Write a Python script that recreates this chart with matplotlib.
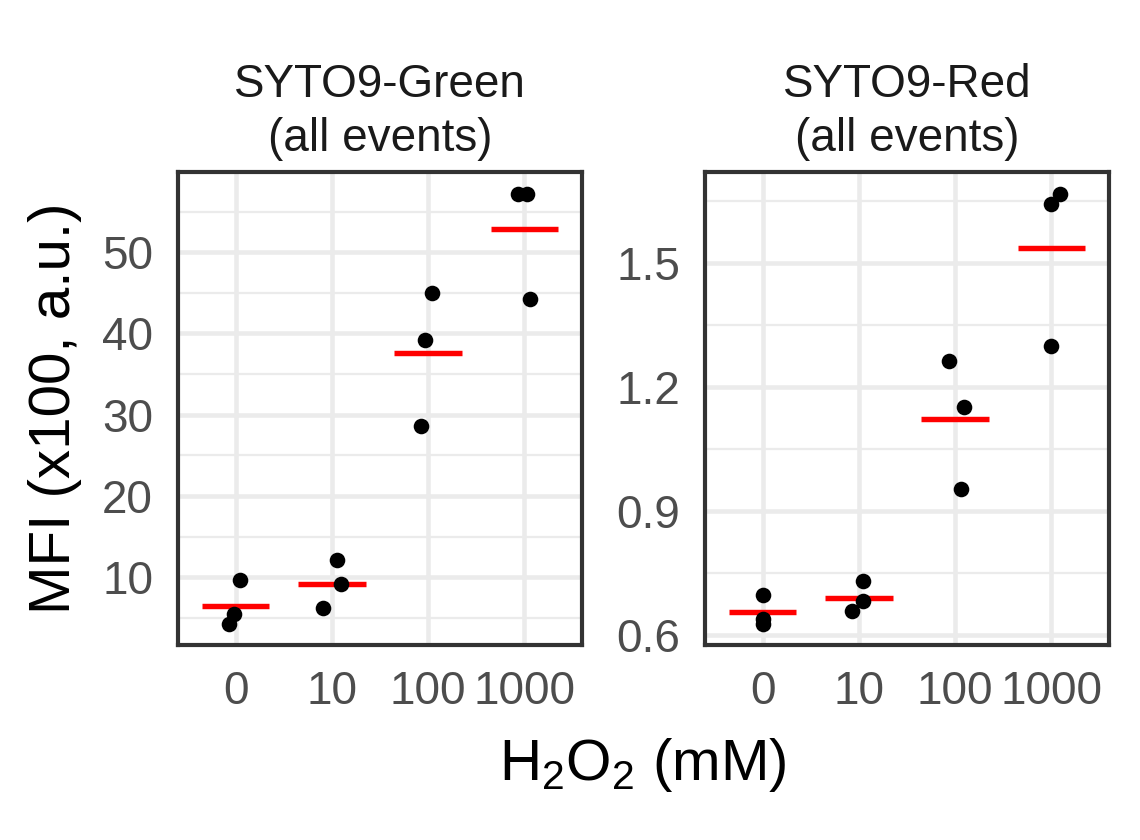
import numpy as np
import matplotlib
matplotlib.use('Agg')
import matplotlib.pyplot as plt
from matplotlib.ticker import MultipleLocator

plt.rcParams['font.family'] = ['Liberation Sans', 'DejaVu Sans']
plt.rcParams['mathtext.default'] = 'regular'

conc = ['0', '10', '100', '1000']

# values, 3 replicates per concentration
green_vals = [[9.67, 5.5, 4.3],
              [12.16, 9.15, 6.22],
              [44.96, 39.15, 28.6],
              [57.23, 57.23, 44.23]]
green_jit = [[0.041, -0.02, -0.069],
             [0.048, 0.093, -0.093],
             [0.041, -0.034, -0.072],
             [-0.062, 0.024, 0.059]]

red_vals = [[0.697, 0.639, 0.628],
            [0.731, 0.6815, 0.6575],
            [1.263, 1.153, 0.9535],
            [1.669, 1.644, 1.299]]
red_jit = [[0.0, 0.005, 0.005],
           [0.041, 0.041, -0.069],
           [-0.059, 0.09, 0.066],
           [0.093, 0.0, 0.0]]

panels = [('SYTO9-Green\n(all events)', green_vals, green_jit, 10, 5),
          ('SYTO9-Red\n(all events)', red_vals, red_jit, 0.3, 0.15)]

fig = plt.figure(figsize=(3.8, 2.8), dpi=300)
lefts = [178 / 1140, 705 / 1140]
for (title, vals, jit, major, minor), left in zip(panels, lefts):
    ax = fig.add_axes([left, 195 / 840, 404 / 1140, 473 / 840])
    ax.set_axisbelow(True)
    for i, (v, j) in enumerate(zip(vals, jit)):
        x = i + np.array(j)
        ax.scatter(x, v, s=14, color='black', linewidths=0, zorder=3)
        ax.hlines(np.mean(v), i - 0.35, i + 0.35, color='red', lw=1.3, zorder=2)
    ax.set_xlim(-0.6, 3.6)
    allv = np.concatenate(vals)
    r = allv.max() - allv.min()
    ax.set_ylim(allv.min() - 0.05 * r, allv.max() + 0.05 * r)
    ax.set_xticks(range(len(conc)))
    ax.set_xticklabels(conc)
    ax.yaxis.set_major_locator(MultipleLocator(major))
    ax.yaxis.set_minor_locator(MultipleLocator(minor))
    ax.grid(which='major', color='#EBEBEB', lw=1.1)
    ax.grid(which='minor', axis='y', color='#EBEBEB', lw=0.55)
    ax.tick_params(which='both', length=0, labelsize=11, colors='#4D4D4D', pad=6)
    for s in ax.spines.values():
        s.set_color('#333333')
        s.set_linewidth(1.0)
    ax.set_title(title, fontsize=11, color='#1A1A1A', pad=5, linespacing=1.3)

fig.text(55 / 1140, 1 - 408 / 840, 'MFI (x100, a.u.)', rotation=90,
         ha='center', va='center', fontsize=14)
fig.text(643 / 1140, 1 - 765 / 840, 'H$_2$O$_2$ (mM)', ha='center', va='center',
         fontsize=14)

fig.savefig('out.png', dpi=300, facecolor='white')
